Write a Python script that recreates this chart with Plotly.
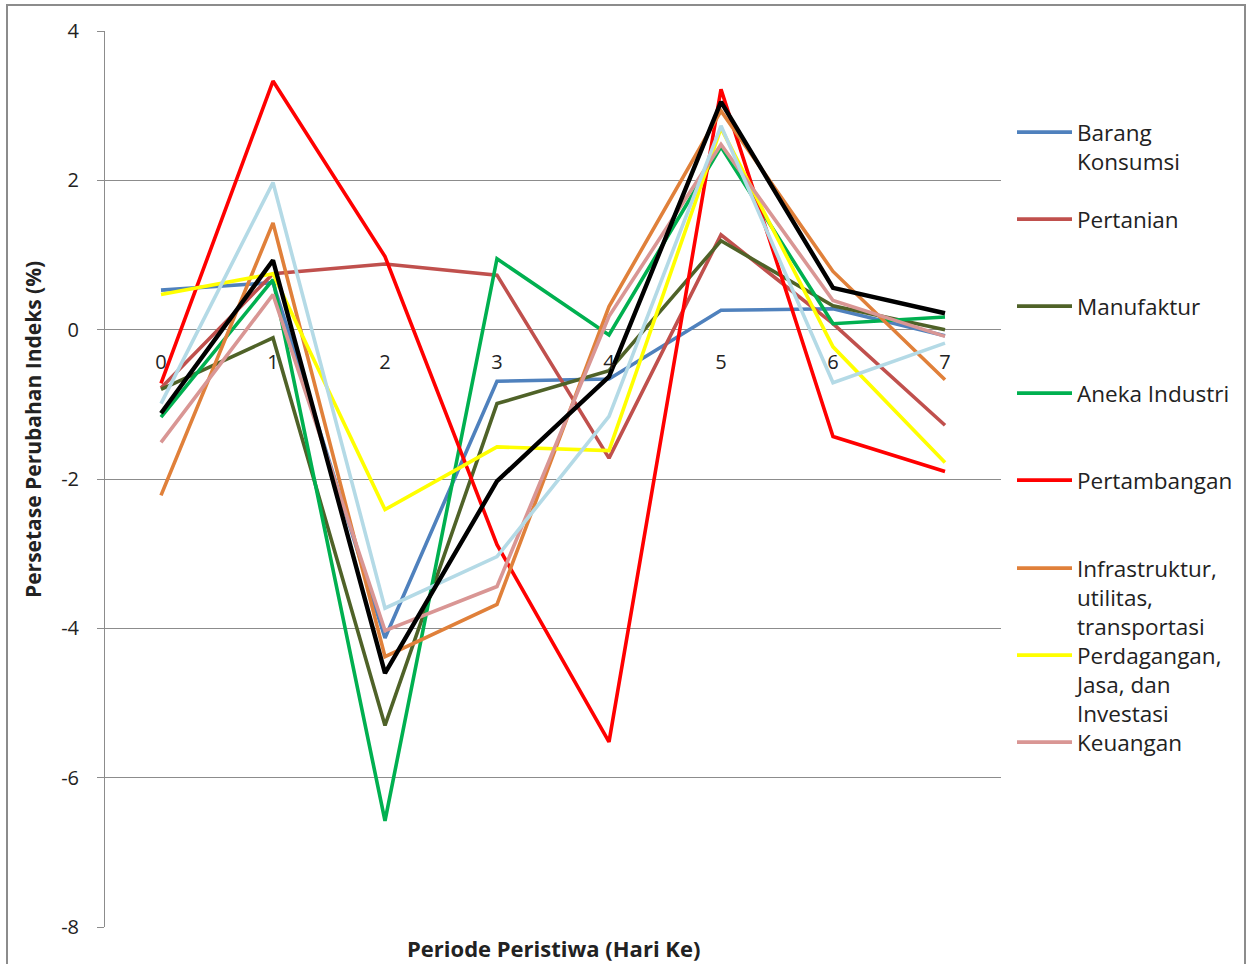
import plotly.graph_objects as go

days = [0, 1, 2, 3, 4, 5, 6, 7]
day_labels = ["0", "1", "2", "3", "4", "5", "6", "7"]
y_ticks = [-8, -6, -4, -2, 0, 2, 4]
y_tick_labels = ["-8", "-6", "-4", "-2", "0", "2", "4"]

barang_konsumsi = [0.53, 0.63, -4.13, -0.69, -0.66, 0.26, 0.28, -0.08]
pertanian = [-0.78, 0.75, 0.88, 0.73, -1.72, 1.27, 0.08, -1.28]
manufaktur = [-0.80, -0.11, -5.30, -0.99, -0.55, 1.19, 0.32, 0.00]
aneka_industri = [-1.17, 0.67, -6.58, 0.95, -0.07, 2.45, 0.08, 0.17]
pertambangan = [-0.72, 3.33, 0.98, -2.88, -5.52, 3.22, -1.43, -1.90]
infrastruktur = [-2.22, 1.43, -4.38, -3.68, 0.31, 2.93, 0.78, -0.67]
perdagangan = [0.47, 0.75, -2.41, -1.57, -1.62, 2.70, -0.23, -1.78]
keuangan = [-1.51, 0.47, -4.03, -3.44, 0.18, 2.48, 0.39, -0.09]
properti = [-0.99, 1.97, -3.73, -3.04, -1.16, 2.73, -0.71, -0.18]
ihsg = [-1.12, 0.93, -4.60, -2.03, -0.63, 3.05, 0.56, 0.22]

series = [
    ("Barang<br>Konsumsi", barang_konsumsi, "#4F81BD", 3.6, True),
    ("Pertanian", pertanian, "#C0504D", 3.6, True),
    ("Manufaktur", manufaktur, "#4F6228", 3.6, True),
    ("Aneka Industri", aneka_industri, "#00B050", 3.6, True),
    ("Pertambangan", pertambangan, "#FF0000", 3.6, True),
    ("Infrastruktur,<br>utilitas,<br>transportasi", infrastruktur, "#E0803A", 3.6, True),
    ("Perdagangan,<br>Jasa, dan<br>Investasi", perdagangan, "#FFFF00", 3.6, True),
    ("Keuangan", keuangan, "#D99694", 3.6, True),
    ("Properti", properti, "#B4DAE6", 3.6, False),
    ("IHSG", ihsg, "#000000", 4.4, False),
]

FONT = "Open Sans"
W, H = 1253, 964
L, R, T, B = 105, 1001, 31, 927
PW, PH = R - L, B - T

def px_x(x):
    return (x - L) / PW

def px_y(y):
    return (B - y) / PH

legend_first_line = [132, 219, 306, 393, 480, 568, 655, 742]

fig = go.Figure()
layout_legends = {}
idx = 0
for name, vals, color, width, show in series:
    legname = None
    if show:
        legname = "legend" if idx == 0 else f"legend{idx + 1}"
        layout_legends[legname] = dict(
            x=px_x(1012), xanchor="left",
            y=px_y(legend_first_line[idx] - 21), yanchor="top",
            valign="top",
            bgcolor="rgba(0,0,0,0)",
            font=dict(family=FONT, size=22.5, color="#222222"),
            itemwidth=55,
            tracegroupgap=0,
        )
        idx += 1
    fig.add_trace(go.Scatter(
        x=days, y=vals, mode="lines", name=name,
        line=dict(color=color, width=width),
        showlegend=show,
        legend=legname if legname else "legend",
    ))

fig.update_layout(
    width=W, height=H,
    margin=dict(l=L, r=W - R, t=T, b=H - B),
    paper_bgcolor="white", plot_bgcolor="white",
    font=dict(family=FONT, size=20, color="#222222"),
    **layout_legends,
)

fig.update_xaxes(
    range=[-0.5, 7.5],
    tickvals=days, ticktext=day_labels,
    anchor="free", position=px_y(330),
    showline=False, showgrid=False, zeroline=False,
    ticks="", ticklabelstandoff=18,
    tickfont=dict(family=FONT, size=20, color="#222222"),
)
fig.update_yaxes(
    range=[-8, 4], tickvals=y_ticks, ticktext=y_tick_labels,
    showgrid=True, gridcolor="#8C8C8C", gridwidth=1,
    zeroline=False,
    showline=True, linecolor="#8C8C8C", linewidth=1,
    ticks="outside", ticklen=7, tickcolor="#8C8C8C",
    ticklabelstandoff=14,
    tickfont=dict(family=FONT, size=20, color="#222222"),
)

fig.add_annotation(
    text="<b>Persetase Perubahan Indeks (%)</b>",
    xref="paper", yref="paper", x=px_x(33), y=px_y(430),
    xanchor="center", yanchor="middle", textangle=-90, showarrow=False,
    font=dict(family=FONT, size=21, color="#222222"),
)
fig.add_annotation(
    text="<b>Periode Peristiwa (Hari Ke)</b>",
    xref="paper", yref="paper", x=px_x(553), y=px_y(948),
    xanchor="center", yanchor="middle", showarrow=False,
    font=dict(family=FONT, size=22, color="#222222"),
)

fig.add_shape(
    type="rect", xref="paper", yref="paper",
    x0=px_x(7), x1=px_x(1245), y0=px_y(975), y1=px_y(5),
    line=dict(color="#8C8C8C", width=2), fillcolor="rgba(0,0,0,0)",
    layer="below",
)

fig.write_html(
    "out.html",
    config={"displayModeBar": False},
    post_script="document.body.style.margin='0';",
)
